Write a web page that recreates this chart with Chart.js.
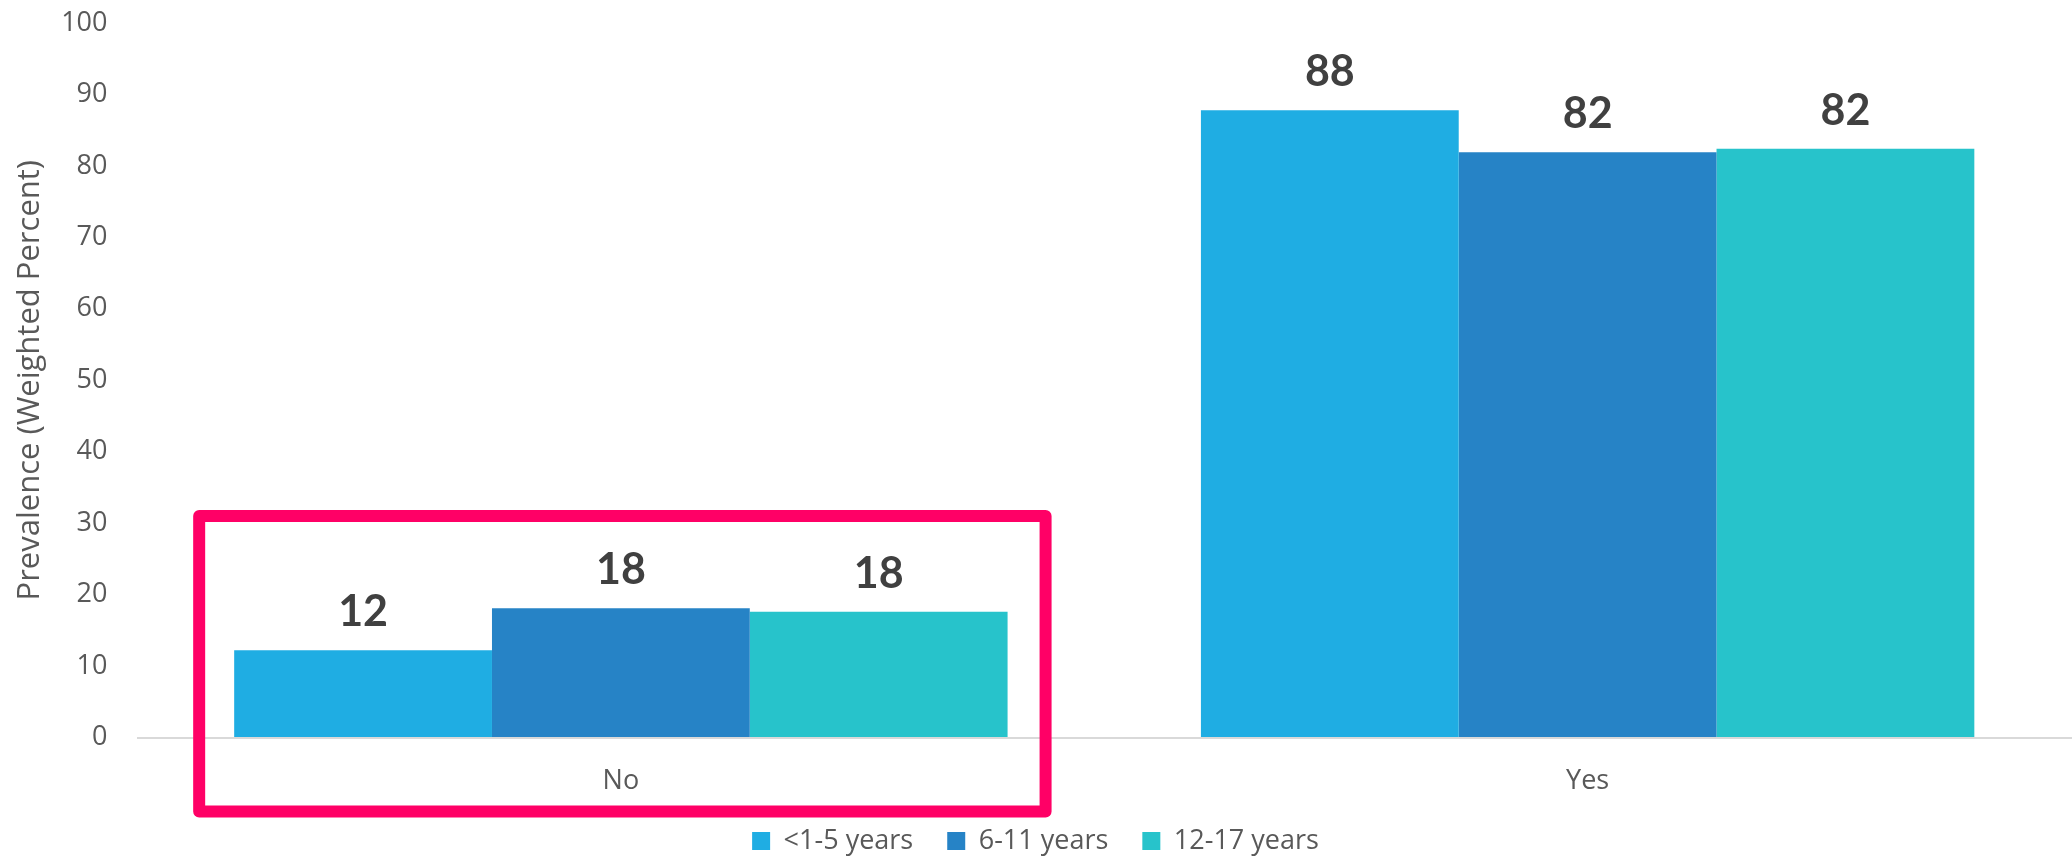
<!DOCTYPE html>
<html>
<head>
<meta charset="utf-8">
<title>Prevalence by age group</title>
<script src="https://cdn.jsdelivr.net/npm/chart.js@4.4.1/dist/chart.umd.min.js"></script>
<style>
  html, body { margin: 0; padding: 0; background: #fff; }
  #wrap { width: 2072px; height: 856px; }
</style>
</head>
<body>
<div id="wrap"><canvas id="prevChart" width="2072" height="856"></canvas></div>
<script>
const categories = ["No", "Yes"];
const ageGroups = ["<1-5 years", "6-11 years", "12-17 years"];
const under5 = [12.2, 87.8];
const age6to11 = [18.1, 81.9];
const age12to17 = [17.6, 82.4];
const colors = ["#1FADE3", "#2683C6", "#27C3CB"];

// rounded value above every bar
const valueLabels = {
  id: "valueLabels",
  afterDatasetsDraw(chart) {
    const ctx = chart.ctx;
    ctx.save();
    ctx.font = "bold 43px Lato";
    ctx.fillStyle = "#404040";
    ctx.textAlign = "center";
    ctx.textBaseline = "alphabetic";
    chart.data.datasets.forEach((ds, i) => {
      chart.getDatasetMeta(i).data.forEach((bar, j) => {
        ctx.fillText(Math.round(ds.data[j]), bar.x, bar.y - 24);
      });
    });
    ctx.restore();
  }
};

// pink frame around the "No" group
const highlightNo = {
  id: "highlightNo",
  afterDraw(chart) {
    const ctx = chart.ctx;
    const n = chart.data.datasets.length;
    const first = chart.getDatasetMeta(0).data[0];
    const last = chart.getDatasetMeta(n - 1).data[0];
    const left = first.x - first.width / 2 - 35;
    const right = last.x + last.width / 2 + 38;
    const top = chart.scales.y.getPixelForValue(31);
    const bottom = chart.chartArea.bottom + 74;
    ctx.save();
    ctx.strokeStyle = "#FF0066";
    ctx.lineWidth = 12;
    ctx.lineJoin = "round";
    ctx.strokeRect(left, top, right - left, bottom - top);
    ctx.restore();
  }
};

Chart.defaults.font.family = "'Open Sans', sans-serif";
Chart.defaults.color = "#595959";

new Chart(document.getElementById("prevChart"), {
  type: "bar",
  data: {
    labels: categories,
    datasets: [
      { label: ageGroups[0], data: under5, backgroundColor: colors[0] },
      { label: ageGroups[1], data: age6to11, backgroundColor: colors[1] },
      { label: ageGroups[2], data: age12to17, backgroundColor: colors[2] }
    ]
  },
  options: {
    responsive: false,
    animation: false,
    categoryPercentage: 0.8,
    barPercentage: 1.0,
    layout: { padding: { top: 23, right: 1, left: 0, bottom: 0 } },
    plugins: {
      tooltip: { enabled: false },
      legend: {
        position: "bottom",
        maxHeight: 62.5,
        labels: {
          boxWidth: 18,
          boxHeight: 18,
          padding: 34,
          color: "#595959",
          font: { size: 27 }
        }
      }
    },
    scales: {
      x: {
        afterFit(scale) { scale.height = 56; },
        grid: { display: false, drawTicks: false },
        border: { display: true, color: "#D9D9D9", width: 2 },
        ticks: { padding: 27.5, color: "#595959", font: { size: 27 } }
      },
      y: {
        min: 0,
        max: 100,
        afterFit(scale) { scale.width = 137.5; },
        // invisible tick marks keep the labels clear of the plot edge
        grid: {
          display: true,
          drawOnChartArea: false,
          drawTicks: true,
          tickLength: 30,
          color: "rgba(0,0,0,0)"
        },
        border: { display: false },
        ticks: { stepSize: 10, padding: 0, color: "#595959", font: { size: 27 } },
        title: {
          display: true,
          text: "Prevalence (Weighted Percent)",
          color: "#595959",
          font: { size: 31 },
          padding: { top: 12, bottom: 0 }
        }
      }
    }
  },
  plugins: [valueLabels, highlightNo]
});
</script>
</body>
</html>
